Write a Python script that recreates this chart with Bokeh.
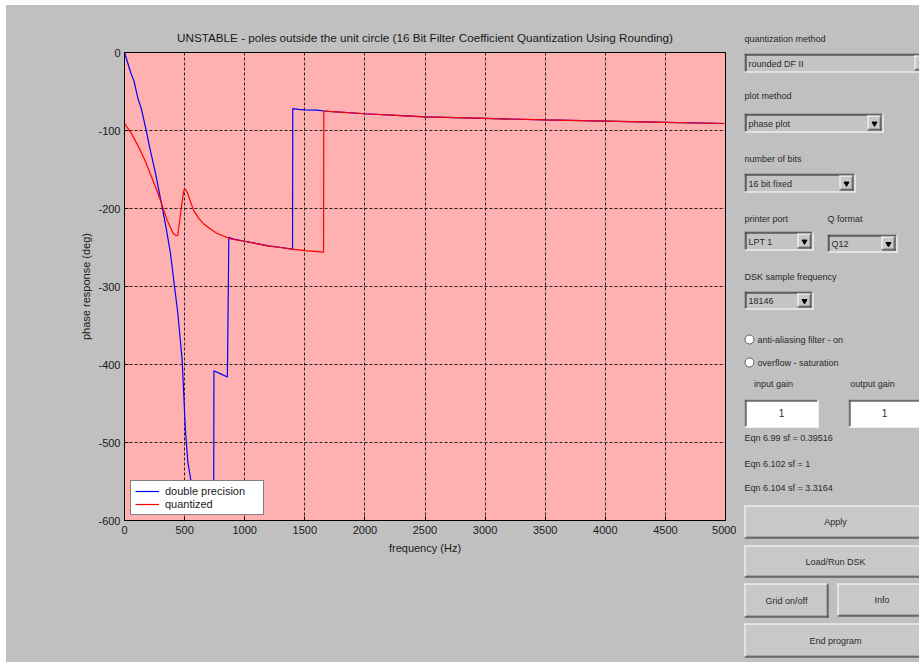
from bokeh.plotting import figure
from bokeh.models import Range1d, FixedTicker, Legend, LegendItem, Spacer, PrintfTickFormatter
from bokeh.layouts import row, column
from bokeh.core.properties import value
from bokeh.embed import file_html
from bokeh.resources import INLINE

# ---- phase response data (frequency in Hz, phase in degrees) ----
freq_double = [0, 20, 50, 80, 110, 140, 175, 210, 258, 290, 313, 350, 383, 416,
               444, 480, 507, 527, 555, 600, 650, 700, 742, 744, 800, 856, 868,
               900, 1000, 1100, 1200, 1300, 1398, 1400, 1450, 1500, 1600, 1660,
               1700, 2000, 2300, 2500, 3000, 3500, 4000, 4500, 5000]
phase_double = [0, -10, -25, -37, -58, -72, -96, -122, -155, -180, -198, -228,
                -258, -300, -335, -395, -485, -525, -551, -566, -575, -582, -586,
                -408, -412, -416, -237, -239, -242, -245, -248, -250, -252, -72,
                -73, -73.5, -74, -75, -75.5, -78.5, -81, -82.5, -84.5, -86.5,
                -88, -89.5, -91]

freq_quant = [0, 50, 90, 133, 175, 216, 260, 300, 355, 405, 430, 444, 466, 490,
              499, 510, 527, 550, 577, 620, 660, 720, 771, 882, 993, 1100, 1187,
              1300, 1395, 1500, 1656, 1658, 1700, 2000, 2300, 2500, 3000, 3500,
              4000, 4500, 5000]
phase_quant = [-91, -102, -113, -126, -140, -156, -173, -190, -215, -232, -235,
               -234, -207, -180, -175, -176, -181, -192, -203, -213, -220, -227,
               -232, -239, -242, -245, -248, -250, -252, -254, -256, -75, -75.5,
               -78.5, -81, -82.5, -84.5, -86.5, -88, -89.5, -91]

x_ticks = [0, 500, 1000, 1500, 2000, 2500, 3000, 3500, 4000, 4500, 5000]
y_ticks = [-600, -500, -400, -300, -200, -100, 0]

series_names = ["double precision", "quantized"]
title_text = ("UNSTABLE - poles outside the unit circle "
              "(16 Bit Filter Coefficient Quantization Using Rounding)")

# ---- control panel texts ----
panel_labels = ["quantization method", "plot method", "number of bits",
                "printer port", "Q format", "DSK sample frequency"]
menu_choices = ["rounded DF II", "phase plot", "16 bit fixed", "LPT 1", "Q12",
                "18146"]
radio_texts = ["anti-aliasing filter - on", "overflow - saturation"]
gain_labels = ["input gain", "output gain"]
gain_values = ["1", "1"]
scale_texts = ["Eqn 6.99   sf = 0.39516", "Eqn 6.102 sf = 1",
               "Eqn 6.104 sf = 3.3164"]
button_texts = ["Apply", "Load/Run DSK", "Grid on/off", "Info", "End program"]

FONT = "Liberation Sans"
GREY = "#c0c0c0"
INK = "#1a1a1a"

# ---------------- main phase plot ----------------
p = figure(width=730, height=657, x_range=Range1d(0, 5000),
           y_range=Range1d(-600, 0), output_backend="svg",
           toolbar_location=None, min_border_left=118, min_border_right=11,
           min_border_top=47, min_border_bottom=142,
           background_fill_color="#ffb0b0", border_fill_color=GREY,
           outline_line_color="black", outline_line_width=1)
p.frame_align = False

p.title.text = title_text
p.title.align = "center"
p.title.text_font = FONT
p.title.text_font_size = "11.7px"
p.title.text_font_style = "normal"
p.title.text_color = INK
p.title.standoff = 17

for ax in (p.xaxis[0], p.yaxis[0]):
    ax.major_label_text_font = FONT
    ax.major_label_text_font_size = "11px"
    ax.major_label_text_color = INK
    ax.axis_label_text_font = FONT
    ax.axis_label_text_font_size = "11px"
    ax.axis_label_text_font_style = "normal"
    ax.axis_label_text_color = INK
    ax.axis_line_color = "black"
    ax.major_tick_in = 4
    ax.major_tick_out = 0
    ax.major_tick_line_color = "black"
    ax.minor_tick_line_color = None
    ax.formatter = PrintfTickFormatter(format="%d")

p.xaxis.ticker = FixedTicker(ticks=x_ticks)
p.yaxis.ticker = FixedTicker(ticks=y_ticks)
p.xaxis.axis_label = "frequency (Hz)"
p.yaxis.axis_label = "phase response (deg)"
p.xaxis.major_label_standoff = 5
p.xaxis.axis_label_standoff = 5
p.yaxis.major_label_standoff = 4
p.yaxis.axis_label_standoff = 3

p.xgrid.ticker = FixedTicker(ticks=x_ticks)
p.ygrid.ticker = FixedTicker(ticks=y_ticks)
for g in (p.xgrid[0], p.ygrid[0]):
    g.grid_line_color = "#222222"
    g.grid_line_dash = "3 2"
    g.grid_line_width = 1

r_double = p.line(freq_double, phase_double, line_color="#0000ff", line_width=1.2)
r_quant = p.line(freq_quant, phase_quant, line_color="#ff0000", line_width=1.2)

legend = Legend(items=[LegendItem(label=series_names[0], renderers=[r_double]),
                       LegendItem(label=series_names[1], renderers=[r_quant])],
                location=(6, 5), padding=4, spacing=1, margin=0,
                label_height=12, glyph_height=12, glyph_width=24,
                label_standoff=6, label_width=94,
                label_text_font=FONT, label_text_font_size="11px",
                label_text_color=INK, border_line_color="black",
                border_line_width=1, background_fill_color="white",
                background_fill_alpha=1)
p.add_layout(legend)

# ---------------- control panel ----------------
q = figure(width=183, height=657, x_range=Range1d(0, 183),
           y_range=Range1d(657, 0), output_backend="svg",
           toolbar_location=None, min_border=0,
           background_fill_color=GREY, border_fill_color=GREY,
           outline_line_color=None)
q.frame_align = False
q.axis.visible = False
q.grid.visible = False

segs = {}


def seg(color, x0, y0, x1, y1):
    segs.setdefault(color, [[], [], [], []])
    s = segs[color]
    s[0].append(x0); s[1].append(y0); s[2].append(x1); s[3].append(y1)


def raised(l, t, r, b, face="#c8c8c8"):
    q.quad(left=l, right=r, top=t, bottom=b, fill_color=face, line_color=None)
    seg("#ffffff", l, t + 0.5, r, t + 0.5)
    seg("#ffffff", l + 0.5, t, l + 0.5, b)
    seg("#303030", l, b - 0.5, r, b - 0.5)
    seg("#303030", r - 0.5, t, r - 0.5, b)
    seg("#808080", l + 1, b - 1.5, r - 1, b - 1.5)
    seg("#808080", r - 1.5, t + 1, r - 1.5, b - 1)


def sunken(l, t, r, b, face):
    q.quad(left=l, right=r, top=t, bottom=b, fill_color=face, line_color=None)
    seg("#808080", l, t + 0.5, r, t + 0.5)
    seg("#808080", l + 0.5, t, l + 0.5, b)
    seg("#202020", l + 1, t + 1.5, r - 1, t + 1.5)
    seg("#202020", l + 1.5, t + 1, l + 1.5, b - 1)
    seg("#ffffff", l, b - 0.5, r, b - 0.5)
    seg("#ffffff", r - 0.5, t, r - 0.5, b)


def label(x, y, txt, size="9px", align="left"):
    q.text(x=[x], y=[y], text=[txt], text_font_size=size, text_color="#2a2a2a",
           text_baseline="middle", text_align=align, text_font=value(FONT))


def dropdown(l, t, r, b, txt):
    sunken(l, t, r, b, "#c4c4c4")
    label(l + 4, (t + b) / 2 + 0.5, txt)
    raised(r - 16, t + 2, r - 2, b - 2)
    q.scatter(x=[r - 9], y=[(t + b) / 2 + 0.5], marker="inverted_triangle",
              size=5, color="black")


# panel background, drawn slightly wider than the panel itself
q.quad(left=-2, right=185, top=-2, bottom=659, fill_color=GREY, line_color=None)

label(8, 33, panel_labels[0])
dropdown(8, 48, 194, 67, menu_choices[0])
label(8, 90, panel_labels[1])
dropdown(8, 108, 147, 127, menu_choices[1])
label(8, 153, panel_labels[2])
dropdown(8, 168, 119, 187, menu_choices[2])
label(8, 213, panel_labels[3])
label(91, 213, panel_labels[4])
dropdown(8, 226, 77, 245, menu_choices[3])
dropdown(91, 229, 161, 247, menu_choices[4])
label(8, 271, panel_labels[5])
dropdown(8, 286, 77, 304, menu_choices[5])

for i, txt in enumerate(radio_texts):
    cy = 334 + 23 * i
    q.scatter(x=[13], y=[cy], marker="circle", size=9, fill_color="white",
              line_color="#606060", line_width=1)
    label(21, cy, txt)

label(37, 378, gain_labels[0], align="center")
label(136, 378, gain_labels[1], align="center")
sunken(8, 394, 82, 422, "white")
sunken(112, 394, 190, 422, "white")
label(45, 407, gain_values[0], size="10px", align="center")
label(148, 407, gain_values[1], size="10px", align="center")

for i, txt in enumerate(scale_texts):
    label(8, [432, 458, 482][i], txt)

button_boxes = [(8, 500, 190, 533), (8, 540, 190, 572), (8, 578, 92, 612),
                (101, 578, 190, 611), (8, 618, 190, 652)]
for (l, t, r, b), txt in zip(button_boxes, button_texts):
    raised(l, t, r, b)
    label((l + r) / 2, (t + b) / 2, txt, align="center")

for color, (x0, y0, x1, y1) in segs.items():
    q.segment(x0=x0, y0=y0, x1=x1, y1=y1, line_color=color, line_width=1)

window = row(p, q, spacing=0, styles={"background-color": GREY})
layout = column(Spacer(width=919, height=5),
                row(Spacer(width=6, height=657), window, spacing=0), spacing=0)

open("out.html", "w").write(file_html(layout, INLINE))
